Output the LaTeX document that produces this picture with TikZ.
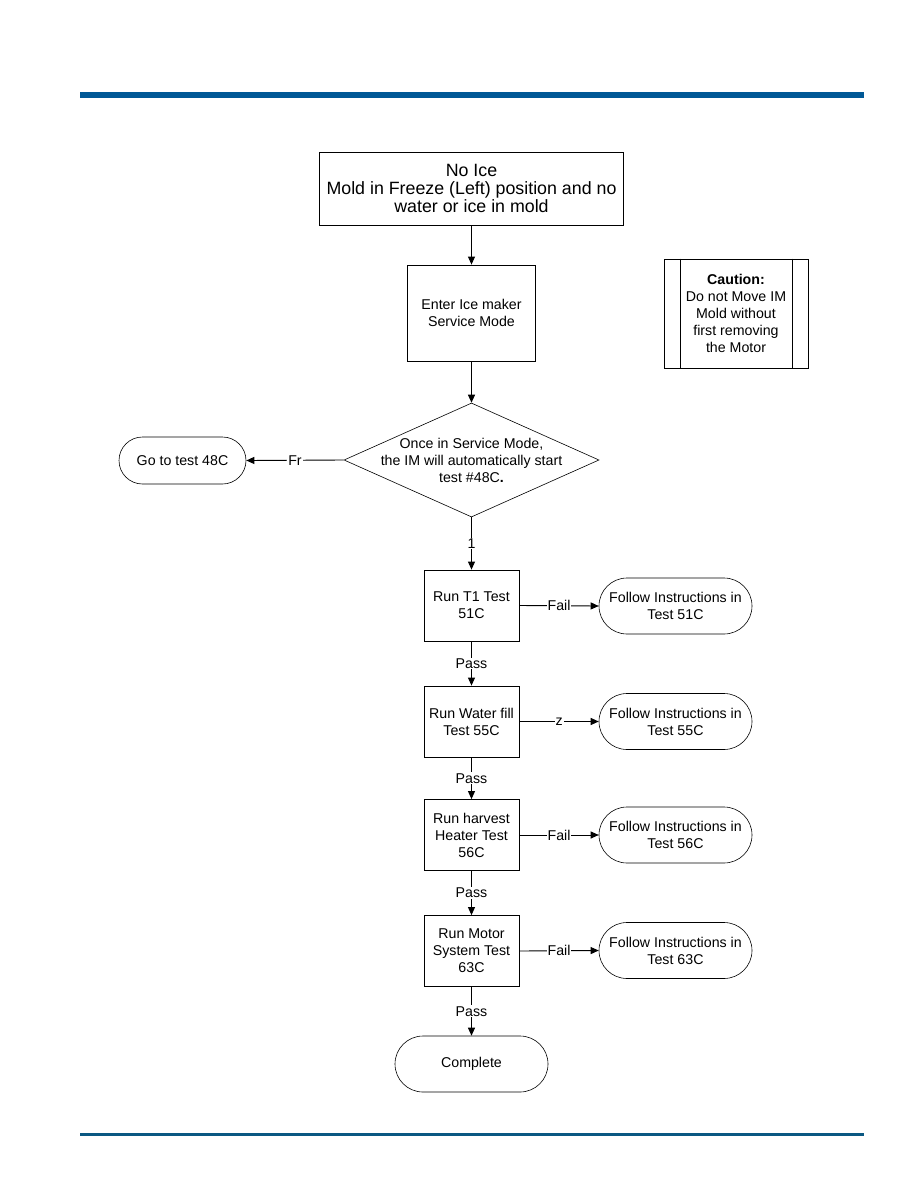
\documentclass[tikz,border=0pt]{standalone}
\usepackage{fontspec}
\setmainfont{Liberation Sans}
\usetikzlibrary{arrows.meta,shapes.geometric}
\definecolor{barblue}{RGB}{0,88,150}
\definecolor{barbluedark}{RGB}{10,88,130}
\begin{document}
\begin{tikzpicture}[x=1pt,y=-1pt,
  every node/.style={font=\fontsize{14.2}{17}\selectfont, align=center, text=black},
  box/.style={draw, line width=0.8pt, minimum width=95pt, minimum height=71pt, inner sep=0pt},
  term/.style={draw, line width=0.6pt, rounded corners=28pt, minimum width=153pt, minimum height=56pt, inner sep=0pt},
  conn/.style={line width=0.9pt, -{Triangle[length=8pt,width=7pt]}},
  lab/.style={fill=white, inner sep=1pt}]
\useasboundingbox (0,0) rectangle (918,1188);
\fill[white] (0,0) rectangle (918,1188);
\fill[barblue] (80,92) rectangle (864,98);
\fill[barbluedark] (80,1133) rectangle (864,1136);

\node[box, minimum width=304pt, minimum height=73pt, font=\fontsize{17.8}{18}\selectfont] (top) at (471.5,188.5) {No Ice\\Mold in Freeze (Left) position and no\\water or ice in mold};
\node[box, minimum width=128pt, minimum height=96pt] (enter) at (471.5,313) {Enter Ice maker\\Service Mode};

\node[box, minimum width=144pt, minimum height=109pt] (caution) at (736,313.5) {\textbf{Caution:}\\Do not Move IM\\Mold without\\first removing\\the Motor};
\draw[line width=0.8pt] ([xshift=17pt]caution.north west) -- ([xshift=17pt]caution.south west);
\draw[line width=0.8pt] ([xshift=-16pt]caution.north east) -- ([xshift=-16pt]caution.south east);

\node[diamond, draw, line width=0.6pt, minimum width=255pt, minimum height=114pt, inner sep=0pt] (dec) at (471.5,460) {};
\node (dectext) at (dec.center) {Once in Service Mode,\\the IM will automatically start\\test \#48C\textbf{.}};

\node[term, minimum width=127pt, minimum height=47pt, rounded corners=23.5pt] (go48) at (182.5,460.5) {Go to test 48C};

\node[box] (t1) at (471.5,605.5) {Run T1 Test\\51C};
\node[term] (f51) at (675.5,606) {Follow Instructions in\\Test 51C};
\node[box] (water) at (471.5,721.5) {Run Water fill\\Test 55C};
\node[term] (f55) at (675.5,721.5) {Follow Instructions in\\Test 55C};
\node[box] (harv) at (471.5,835) {Run harvest\\Heater Test\\56C};
\node[term] (f56) at (675.5,835) {Follow Instructions in\\Test 56C};
\node[box] (motor) at (471.5,951) {Run Motor\\System Test\\63C};
\node[term] (f63) at (675.5,950.5) {Follow Instructions in\\Test 63C};
\node[term] (complete) at (471.5,1064) {Complete};

\draw[conn] (top.south) -- (enter.north);
\draw[conn] (enter.south) -- (dec.north);
\draw[conn] (dec.west) -- node[lab] {Fr} (go48.east);
\draw[conn] (dec.south) -- node[lab] {1} (t1.north);
\draw[conn] (t1.east) -- node[lab] {Fail} (f51.west);
\draw[conn] (t1.south) -- node[lab] {Pass} (water.north);
\draw[conn] (water.east) -- node[lab] {z} (f55.west);
\draw[conn] (water.south) -- node[lab] {Pass} (harv.north);
\draw[conn] (harv.east) -- node[lab] {Fail} (f56.west);
\draw[conn] (harv.south) -- node[lab] {Pass} (motor.north);
\draw[conn] (motor.east) -- node[lab] {Fail} (f63.west);
\draw[conn] (motor.south) -- node[lab] {Pass} (complete.north);
\end{tikzpicture}
\end{document}
